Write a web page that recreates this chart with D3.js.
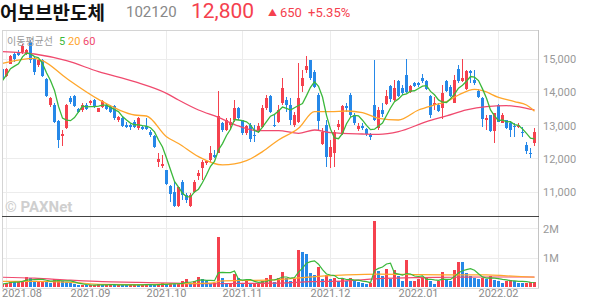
<!DOCTYPE html>
<html>
<head>
<meta charset="utf-8">
<script src="https://cdn.jsdelivr.net/npm/d3@7/dist/d3.min.js"></script>
<style>
  body { margin: 0; background: #fff; }
  svg { display: block; font-family: Roboto, "Noto Sans CJK KR", sans-serif; }
</style>
</head>
<body>
<div id="chart"></div>
<script>
// daily candles, 2021-07-30 .. 2022-02-16 (won)
const opens = [14680,14470,14840,15150,15200,15200,15150,15500,15000,14800,14950,14380,13600,13600,13120,12680,12900,13820,13870,13470,13450,13600,13650,13750,13400,13530,13600,
  13550,13570,13150,13200,13000,13000,13100,12900,12940,12980,12780,12680,11880,11760,11640,11180,11000,10560,11300,10900,10580,11000,11460,11700,11860,11940,12100,
  12170,13060,12850,13000,13150,13500,13140,12750,13000,12700,12800,12950,13500,13880,13000,13080,13650,13740,13600,13000,13080,14180,14640,14950,14600,13900,12440,
  13000,12030,12150,12950,12750,13570,13900,13300,12870,12970,12870,12730,13600,12900,13450,13630,14170,13750,14330,14100,14500,14000,14270,14270,14420,14330,13870,
  13600,13600,13500,14330,14130,13670,14670,14330,14070,14630,14350,14030,13800,13150,13300,12830,13600,13070,13150,13050,12970,12930,12800,12400,12170,12450];
const highs = [14750,14700,15100,15200,15250,15450,15300,15550,15050,15000,15000,14400,13850,13650,13150,12850,13620,13870,13900,13500,13650,13650,13750,13780,13520,13760,13650,
  13600,13600,13280,13230,13080,13020,13150,13250,12980,13200,12850,12700,12150,12100,11650,11200,11300,11150,11350,10950,10950,11350,11650,11950,11960,12380,12250,
  14030,13100,13200,13200,13750,13550,13150,13000,13050,13000,13050,13600,13900,13900,13300,13600,14400,13850,13800,13400,14850,14650,15080,14960,14650,13950,12900,
  13150,12550,12850,13150,13600,13650,13970,13350,13050,13050,12900,12750,14950,13550,13650,14050,14200,14350,14350,14200,15000,14200,14300,14300,14520,14350,13900,
  13850,13650,14200,14350,14200,14500,14800,15000,14650,14650,14650,14070,13850,13300,13300,13370,13620,13350,13160,13100,13050,13050,12930,12500,12300,12900];
const lows = [14330,14450,14820,14900,15080,15150,15100,14850,14500,14750,14450,13850,13550,13050,12300,12380,12880,13620,13530,13350,13400,13450,13600,13500,13380,13500,13450,
  13350,13150,13100,12950,12900,12850,12900,12850,12850,12850,12650,12300,11750,11700,11200,10700,10550,10530,10750,10650,10550,10950,11350,11350,11800,11900,12000,
  12150,12800,12820,12850,13100,13150,12700,12700,12500,12500,12750,12900,13450,13350,12930,13050,13600,13400,13000,12950,13050,14000,14550,14350,14100,12850,12400,
  11730,11700,11750,12850,12700,13400,13250,13000,12830,12850,12680,12550,13130,12850,13250,13600,13700,13700,13850,13900,13950,13950,14150,14150,14250,14050,13200,
  13450,13400,13170,14000,13850,13650,14250,14300,14050,14250,14200,13800,12950,12850,12800,12470,13100,13050,12870,12630,12650,12900,12630,12130,12000,12370];
const closes = [14340,14670,15080,15000,15120,15370,15250,14950,14600,14950,14480,13880,13800,13100,12550,12720,13600,13700,13560,13400,13600,13480,13730,13560,13500,13730,13480,
  13400,13200,13230,12980,12950,12950,12950,13200,12880,12880,12700,12330,11980,11830,11240,10940,10560,11150,10900,10740,10900,11300,11550,11900,11920,12150,12040,
  13270,12850,13140,13080,13500,13200,12750,12980,12580,12680,12960,13500,13800,13400,12960,13460,14100,13600,13150,13300,13800,14400,14780,14400,14130,13130,12780,
  12030,12330,12800,13020,13570,13500,13300,13070,12970,12900,12730,12650,13150,13450,13330,13870,13770,14100,13870,13950,14000,14170,14170,14200,14320,14070,13300,
  13670,13430,13970,14030,13870,14350,14330,14420,14620,14570,14250,13830,13170,13200,12830,13370,13100,13300,12900,12850,12930,13000,12750,12230,12150,12800];
// volume, thousand shares
const volumes = [110,150,230,200,200,220,360,300,230,230,230,200,160,270,270,210,190,140,100,70,90,70,70,80,110,80,80,
  90,80,90,80,70,80,90,80,90,100,80,70,110,130,100,150,110,110,210,280,150,230,340,270,200,150,160,
  1720,300,150,150,450,310,150,240,150,150,150,230,300,410,180,330,530,300,200,290,1250,1210,1140,470,410,690,280,
  410,290,310,200,300,220,310,200,180,140,120,140,2260,550,370,630,280,570,370,200,920,200,230,280,310,320,220,
  120,220,510,290,200,600,860,850,490,370,310,290,310,280,400,260,230,160,220,260,220,160,150,160,170,170];

// moving-average lines (candle index -> value)
const ma20Idx = [0,8,10,16,24,33,36,41,44,49,55,61,65,69,74,78,82,86,90,94,99,104,108,111,114,118,120,124,128,131,133];
const ma20Val = [14855,15005,14935,14405,13775,13305,13275,12655,12450,12055,11805,11935,12205,12555,12905,13405,13405,13425,13375,13205,13155,13455,13605,13705,13905,14075,14035,13835,13705,13605,13420];
const ma60Idx = [0,8,16,24,33,41,44,49,54,59,64,69,74,78,82,90,94,99,106,111,116,121,126,131,133];
const ma60Val = [15205,15135,14935,14605,14305,13955,13755,13455,13235,12975,12835,12835,12755,12855,12775,12735,12725,12805,13105,13275,13455,13555,13585,13505,13455];
const vma20Idx = [0,8,17,25,34,43,52,55,60,69,75,86,94,104,112,121,126,133];
const vma20Val = [200,200,170,100,90,120,140,220,230,260,330,420,450,430,420,420,390,340];
const vma60Idx = [0,8,17,25,34,43,52,60,69,77,86,95,104,112,121,133];
const vma60Val = [340,310,240,190,170,140,120,130,140,190,220,300,330,340,350,350];

const monthIdx = [1,22,41,60,82,104,124];
const monthLabels = ['2021.08','2021.09','2021.10','2021.11','2021.12','2022.01','2022.02'];
const priceTicks = [11000,12000,13000,14000,15000];
const volTicks = [1000,2000];
const volTickLabels = ['1M','2M'];

const RED = '#f5414e', BLUE = '#2688e8';
const C5 = '#3bb83b', C20 = '#ffa62b', C60 = '#f04a6e';

const svg = d3.select('#chart').append('svg')
  .attr('width', 594)
  .attr('height', 304);

const left = 2, right = 538, pTop = 30, pBot = 216, vBot = 288;

const x = d3.scaleLinear().domain([0, 133]).range([2.5, 534.5]);
const y = d3.scaleLinear().domain([11000, 15000]).range([191.8, 58.5]);
const yv = d3.scaleLinear().domain([0, 2000]).range([287.3, 228.3]);

const defs = svg.append('defs');
defs.append('clipPath').attr('id', 'pclip')
  .append('rect').attr('x', left).attr('y', pTop).attr('width', right - left).attr('height', pBot - pTop);
defs.append('clipPath').attr('id', 'vclip')
  .append('rect').attr('x', left).attr('y', pBot + 1).attr('width', right - left).attr('height', vBot - pBot - 1);

// grid
const grid = svg.append('g').attr('stroke', '#ececec').attr('shape-rendering', 'crispEdges');
grid.selectAll('.hp').data(priceTicks).enter().append('line')
  .attr('x1', left).attr('x2', right).attr('y1', d => Math.round(y(d)) + 0.5).attr('y2', d => Math.round(y(d)) + 0.5);
grid.selectAll('.hv').data(volTicks).enter().append('line')
  .attr('x1', left).attr('x2', right).attr('y1', d => Math.round(yv(d)) + 0.5).attr('y2', d => Math.round(yv(d)) + 0.5);
grid.selectAll('.vm').data(monthIdx).enter().append('line')
  .attr('x1', d => x(d)).attr('x2', d => x(d)).attr('y1', pTop).attr('y2', vBot);

// watermark
svg.append('text').attr('x', 5).attr('y', 212)
  .attr('font-size', 15).attr('font-weight', 'bold').attr('fill', '#cfcfcf')
  .text('© PAXNet');

// candles
const candles = svg.append('g').attr('clip-path', 'url(#pclip)').attr('shape-rendering', 'crispEdges');
const idx = d3.range(closes.length);
candles.selectAll('line').data(idx).enter().append('line')
  .attr('x1', i => x(i)).attr('x2', i => x(i))
  .attr('y1', i => y(highs[i])).attr('y2', i => y(lows[i]))
  .attr('stroke', i => closes[i] >= opens[i] ? RED : BLUE);
candles.selectAll('rect').data(idx).enter().append('rect')
  .attr('x', i => x(i) - 1.5)
  .attr('width', 3)
  .attr('y', i => y(Math.max(opens[i], closes[i])))
  .attr('height', i => Math.max(1, Math.abs(y(opens[i]) - y(closes[i]))))
  .attr('fill', i => closes[i] >= opens[i] ? RED : BLUE);

// moving averages
const ma5 = closes.map((c, i) => d3.mean(closes.slice(Math.max(0, i - 4), i + 1)));
const lineIdx = d3.line().x(i => x(i)).y(i => y(ma5[i]));
const lineS = d3.line().curve(d3.curveMonotoneX);
const maG = svg.append('g').attr('clip-path', 'url(#pclip)').attr('fill', 'none').attr('stroke-width', 1.3);
maG.append('path').attr('stroke', C60)
  .attr('d', lineS(ma60Idx.map((d, k) => [x(d), y(ma60Val[k])])));
maG.append('path').attr('stroke', C20)
  .attr('d', lineS(ma20Idx.map((d, k) => [x(d), y(ma20Val[k])])));
maG.append('path').attr('stroke', C5).attr('d', lineIdx(idx));

// volume bars
const vols = svg.append('g').attr('clip-path', 'url(#vclip)').attr('shape-rendering', 'crispEdges');
vols.selectAll('rect').data(idx).enter().append('rect')
  .attr('x', i => x(i) - 1.5)
  .attr('width', 3)
  .attr('y', i => yv(volumes[i]))
  .attr('height', i => yv(0) - yv(volumes[i]))
  .attr('fill', i => (i === 0 || volumes[i] >= volumes[i - 1]) ? RED : BLUE);

const vma5 = volumes.map((v, i) => d3.mean(volumes.slice(Math.max(0, i - 4), i + 1)));
const vG = svg.append('g').attr('clip-path', 'url(#vclip)').attr('fill', 'none').attr('stroke-width', 1.2);
vG.append('path').attr('stroke', C60)
  .attr('d', lineS(vma60Idx.map((d, k) => [x(d), yv(vma60Val[k])])));
vG.append('path').attr('stroke', C20)
  .attr('d', lineS(vma20Idx.map((d, k) => [x(d), yv(vma20Val[k])])));
vG.append('path').attr('stroke', C5)
  .attr('d', d3.line().x(i => x(i)).y(i => yv(vma5[i]))(idx));

// frame
const frame = svg.append('g').attr('shape-rendering', 'crispEdges');
frame.append('line').attr('x1', left).attr('x2', right + 1).attr('y1', pTop + 0.5).attr('y2', pTop + 0.5).attr('stroke', '#d4d4d4');
frame.append('line').attr('x1', left + 0.5).attr('x2', left + 0.5).attr('y1', pTop).attr('y2', vBot).attr('stroke', '#d4d4d4');
frame.append('line').attr('x1', right + 0.5).attr('x2', right + 0.5).attr('y1', pTop).attr('y2', vBot).attr('stroke', '#c4c4c4');
frame.append('line').attr('x1', left).attr('x2', right + 1).attr('y1', pBot + 0.5).attr('y2', pBot + 0.5).attr('stroke', '#444');
frame.append('line').attr('x1', left).attr('x2', right + 1).attr('y1', vBot + 0.5).attr('y2', vBot + 0.5).attr('stroke', '#dcdcdc');

// axes labels
const yAxis = d3.axisRight(y).tickValues(priceTicks).tickSize(0).tickPadding(5).tickFormat(d3.format(','));
const gy = svg.append('g').attr('transform', `translate(${right},0)`).call(yAxis);
gy.select('.domain').remove();
gy.selectAll('text').attr('fill', '#999').attr('font-size', 11).attr('font-family', 'Roboto').attr('dy', '0.65em').attr('y', -3);

const vAxis = d3.axisRight(yv).tickValues(volTicks).tickSize(0).tickPadding(5).tickFormat((d, k) => volTickLabels[k]);
const gv = svg.append('g').attr('transform', `translate(${right},0)`).call(vAxis);
gv.select('.domain').remove();
gv.selectAll('text').attr('fill', '#999').attr('font-size', 11).attr('font-family', 'Roboto').attr('dy', '0.65em').attr('y', -3);

svg.append('g').selectAll('text').data(monthIdx).enter().append('text')
  .attr('x', d => Math.max(x(d), 22))
  .attr('y', 297)
  .attr('text-anchor', 'middle')
  .attr('font-size', 11)
  .attr('fill', '#8c8c8c')
  .text((d, k) => monthLabels[k]);

// legend
const lg = svg.append('g').attr('font-size', 11);
lg.append('text').attr('x', 7).attr('y', 45).attr('fill', '#999').attr('font-size', 10)
  .attr('font-family', '"Noto Sans CJK KR"').text('이동평균선');
lg.append('text').attr('x', 59).attr('y', 45).attr('fill', C5).text('5');
lg.append('text').attr('x', 68).attr('y', 45).attr('fill', C20).text('20');
lg.append('text').attr('x', 83).attr('y', 45).attr('fill', C60).text('60');

// header
svg.append('text').attr('x', 0).attr('y', 19.5)
  .attr('font-family', '"Noto Sans CJK KR"').attr('font-weight', 'bold').attr('font-size', 19).attr('fill', '#111')
  .text('어보브반도체');
svg.append('text').attr('x', 126).attr('y', 17).attr('font-size', 15).attr('fill', '#888').text('102120');
svg.append('text').attr('x', 191).attr('y', 18).attr('font-size', 21).attr('fill', RED).text('12,800');
svg.append('text').attr('x', 268).attr('y', 16).attr('font-size', 9).attr('fill', RED).text('▲');
svg.append('text').attr('x', 280).attr('y', 17).attr('font-size', 13).attr('fill', RED).text('650');
svg.append('text').attr('x', 308).attr('y', 17).attr('font-size', 13).attr('fill', RED).text('+5.35%');
</script>
</body>
</html>
